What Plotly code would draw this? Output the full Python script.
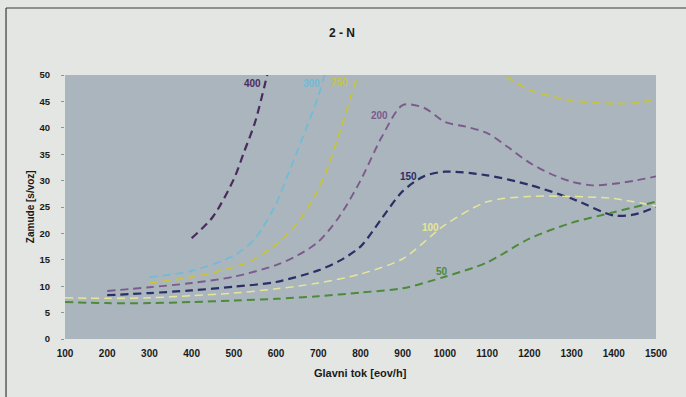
import plotly.graph_objects as go

# Delay curves (Zamude) versus main flow (Glavni tok), one per secondary flow level
x_50 = [100, 200, 300, 400, 500, 600, 700, 800, 900, 1000, 1100, 1200, 1300, 1400, 1500]
y_50 = [7.0, 6.8, 6.8, 7.0, 7.3, 7.6, 8.1, 8.8, 9.6, 11.8, 14.5, 19.0, 22.0, 24.0, 26.0]

x_100 = [100, 200, 300, 400, 500, 600, 700, 800, 900, 1000, 1100, 1200, 1300, 1400, 1500]
y_100 = [7.8, 7.7, 7.8, 8.2, 8.7, 9.5, 10.6, 12.3, 15.2, 21.6, 26.0, 27.0, 27.0, 26.6, 25.2]

x_150 = [200, 300, 400, 500, 600, 700, 750, 800, 850, 900, 950, 1000, 1100, 1200, 1300, 1400, 1450, 1500]
y_150 = [8.3, 8.7, 9.2, 9.9, 10.8, 13.0, 14.8, 17.5, 22.8, 28.0, 30.8, 31.7, 31.0, 29.2, 26.6, 23.4, 23.6, 25.0]

x_200 = [200, 300, 400, 500, 600, 650, 700, 750, 800, 850, 900, 950, 1000, 1050, 1100,
         1150, 1200, 1250, 1300, 1350, 1400, 1450, 1500]
y_200 = [9.1, 9.8, 10.6, 11.8, 14.0, 15.8, 18.4, 23.2, 30.0, 38.2, 44.3, 43.8, 41.1, 40.2, 39.0,
         36.3, 33.4, 31.3, 29.8, 29.1, 29.4, 30.0, 30.8]

x_250 = [300, 400, 500, 550, 600, 650, 700, 725, 750, 775, 800, None,
         1125, 1150, 1200, 1250, 1300, 1350, 1400, 1450, 1500]
y_250 = [10.6, 11.7, 13.6, 15.2, 17.9, 21.9, 28.3, 33.0, 39.0, 45.3, 51.5, None,
         51.6, 49.5, 47.2, 46.0, 45.2, 44.8, 44.6, 44.7, 45.3]

x_300 = [300, 400, 500, 550, 600, 625, 650, 675, 700, 725]
y_300 = [11.7, 12.9, 15.8, 19.0, 25.6, 30.5, 35.5, 40.6, 46.0, 53.0]

x_400 = [400, 450, 500, 525, 550, 575, 600]
y_400 = [19.1, 23.1, 30.3, 35.6, 41.0, 48.7, 57.0]

series = [
    ("400", x_400, y_400, "#4a2c5c", 2.2, (543, 48.3)),
    ("300", x_300, y_300, "#6dbcd8", 1.6, (685, 48.3)),
    ("250", x_250, y_250, "#c6c43e", 1.9, (751, 48.5)),
    ("200", x_200, y_200, "#7c5a8c", 1.9, (846, 42.4)),
    ("150", x_150, y_150, "#2b2f66", 2.2, (913, 30.7)),
    ("100", x_100, y_100, "#e6e697", 1.5, (965, 21.2)),
    ("50", x_50, y_50, "#4d8a3a", 2.0, (993, 12.7)),
]

FONT = "Liberation Sans Narrow, Liberation Sans, Arial, sans-serif"

fig = go.Figure()
annotations = []
for name, xs, ys, color, width, (lx, ly) in series:
    fig.add_trace(go.Scatter(
        x=xs, y=ys, mode="lines", name=name,
        line=dict(color=color, width=width, dash="8px,5px", shape="spline", smoothing=0.8),
        connectgaps=False, hoverinfo="skip", showlegend=False,
    ))
    annotations.append(dict(
        x=lx, y=ly, xref="x", yref="y", text=f"<b>{name}</b>", showarrow=False,
        xanchor="center", yanchor="middle",
        font=dict(family=FONT, size=10, color=color),
    ))

# chart title and axis titles
annotations += [
    dict(x=0.4687, y=1.159, xref="paper", yref="paper", text="<b>2 - N</b>", showarrow=False,
         xanchor="center", yanchor="middle",
         font=dict(family=FONT, size=12, color="#1a1a1a")),
    dict(x=0.5, y=-0.129, xref="paper", yref="paper", text="<b>Glavni tok [eov/h]</b>",
         showarrow=False, xanchor="center", yanchor="middle",
         font=dict(family=FONT, size=11, color="#1a1a1a")),
    dict(x=-0.059, y=0.5, xref="paper", yref="paper", text="<b>Zamude [s/voz]</b>",
         showarrow=False, textangle=-90, xanchor="center", yanchor="middle",
         font=dict(family=FONT, size=10, color="#1a1a1a")),
]

# frame around the figure panel
shapes = [
    dict(type="line", xref="paper", yref="paper", x0=-0.0998, x1=-0.0998, y0=1.2538, y1=-0.23,
         line=dict(color="#3a3a3a", width=1.2)),
    dict(type="line", xref="paper", yref="paper", x0=-0.0998, x1=1.06, y0=1.2538, y1=1.2538,
         line=dict(color="#3a3a3a", width=1.2)),
]

fig.update_layout(
    width=686, height=397,
    margin=dict(l=65, r=30, t=75, b=58),
    paper_bgcolor="#e3e6e2",
    plot_bgcolor="#aab5bd",
    annotations=annotations,
    shapes=shapes,
    xaxis=dict(
        range=[100, 1500], tickmode="array",
        tickvals=list(range(100, 1501, 100)),
        ticktext=[f"<b>{v}</b>" for v in range(100, 1501, 100)],
        showgrid=False, zeroline=False, showline=False,
        ticks="", ticklabelstandoff=7,
        tickfont=dict(family=FONT, size=10, color="#1a1a1a"),
    ),
    yaxis=dict(
        range=[0, 50], tickmode="array",
        tickvals=list(range(0, 51, 5)),
        ticktext=[f"<b>{v}</b>" for v in range(0, 51, 5)],
        showgrid=False, zeroline=False, showline=False,
        ticks="outside", ticklen=3, tickcolor="#8a949a", ticklabelstandoff=9,
        tickfont=dict(family=FONT, size=9.5, color="#1a1a1a"),
    ),
)

fig.write_html("out.html")
